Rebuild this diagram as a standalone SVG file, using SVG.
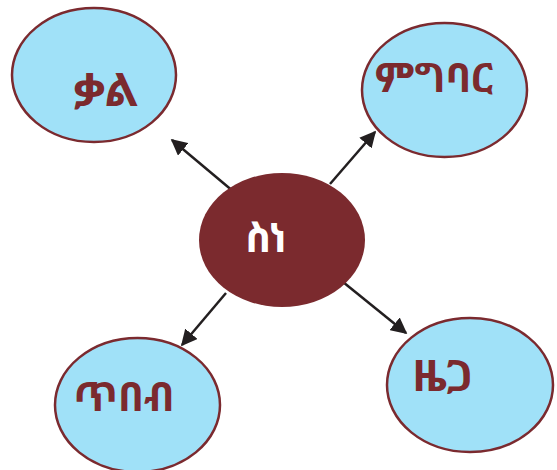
<svg xmlns="http://www.w3.org/2000/svg" width="557" height="470" viewBox="0 0 557 470">
<style>
.leaf{fill:#a0e1f8;stroke:#7b2a2f;stroke-width:2.5}
.hub{fill:#7b2a2e}
.t{font-family:"Noto Sans Ethiopic","Noto Serif Ethiopic","Abyssinica SIL","DejaVu Sans","Noto Sans",sans-serif;font-weight:bold;font-size:40px;fill:#7b2a2e}
.ht{fill:#ffffff}
.c{stroke:#231f20;stroke-width:2.5;fill:none;marker-end:url(#ah)}
</style>
<defs>
<marker id="ah" viewBox="0 0 10 10" refX="9" refY="5" markerWidth="6.5" markerHeight="6.5" markerUnits="strokeWidth" orient="auto">
<path d="M0,0 L10,5 L0,10 z" fill="#231f20"/>
</marker>
</defs>
<g id="connectors">
<line class="c" x1="234" y1="192" x2="172" y2="140"/>
<line class="c" x1="330" y1="184" x2="375" y2="132"/>
<line class="c" x1="226" y1="293" x2="182" y2="345"/>
<line class="c" x1="343" y1="282" x2="406" y2="333"/>
</g>
<g id="node-qal">
<ellipse class="leaf" cx="94" cy="75" rx="82" ry="67"/>
<text class="t" x="106" y="106" text-anchor="middle" style="font-size:46px">ቃል</text>
</g>
<g id="node-migbar">
<ellipse class="leaf" cx="444.5" cy="90" rx="82.5" ry="67"/>
<text class="t" x="434" y="92" text-anchor="middle">ምግባር</text>
</g>
<g id="node-sine">
<ellipse class="hub" cx="282" cy="240" rx="83" ry="67"/>
<text class="t ht" x="266" y="252" text-anchor="middle">ስነ</text>
</g>
<g id="node-tibeb">
<ellipse class="leaf" cx="137.5" cy="405" rx="82.5" ry="67"/>
<text class="t" x="124" y="411" text-anchor="middle">ጥበብ</text>
</g>
<g id="node-zega">
<ellipse class="leaf" cx="470" cy="385" rx="83" ry="67"/>
<text class="t" x="443" y="391" text-anchor="middle" style="font-size:43px">ዜጋ</text>
</g>
</svg>
